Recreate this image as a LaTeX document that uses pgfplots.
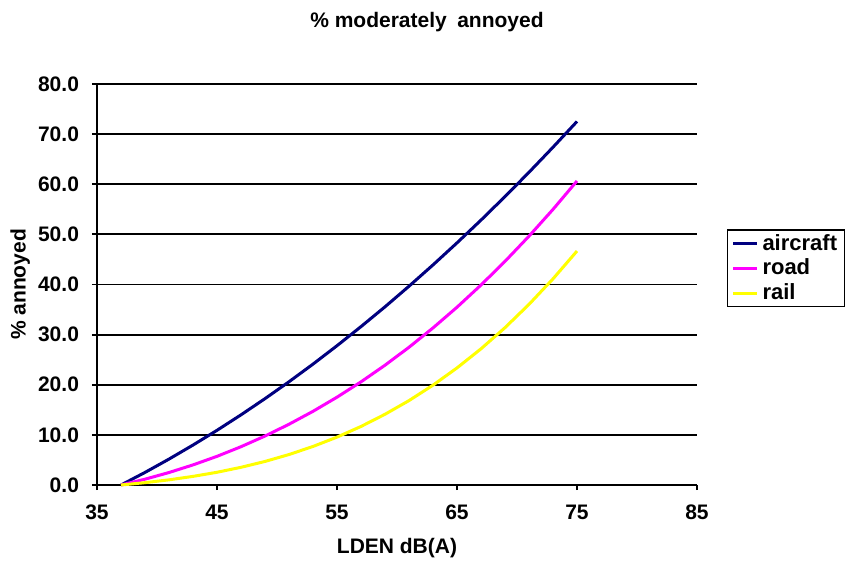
\documentclass[border=0pt]{standalone}
\usepackage{pgfplots}
\pgfplotsset{compat=1.18}
\usepackage{fontspec}
\setmainfont{Liberation Sans}
\definecolor{aircraftc}{RGB}{0,0,128}
\definecolor{roadc}{RGB}{255,0,255}
\definecolor{railc}{RGB}{255,255,0}
\begin{document}
\begin{tikzpicture}
\begin{axis}[
  scale only axis,
  width=300pt, height=200.5pt,
  xmin=35, xmax=85, ymin=0, ymax=80,
  xtick={35,45,55,65,75,85},
  ytick={0,10,20,30,40,50,60,70,80},
  axis x line=bottom, axis y line=left,
  axis line style={-, black, line width=0.9pt},
  tick align=outside,
  major tick length=2.5pt,
  tick style={black, line width=0.9pt},
  ymajorgrids,
  major grid style={black, line width=0.9pt},
  /pgf/number format/assume math mode=true,
  yticklabel={\pgfmathprintnumber[fixed,fixed zerofill,precision=1]{\tick}},
  ticklabel style={font=\fontsize{10.5}{12}\selectfont\bfseries},
  xticklabel style={yshift=-4pt},
  yticklabel style={xshift=-3pt},
  xlabel={LDEN dB(A)},
  ylabel={\% annoyed},
  label style={font=\fontsize{10.5}{12}\selectfont\bfseries},
  xlabel style={at={(axis description cs:0.5,-0.157)}, anchor=center},
  ylabel style={at={(axis description cs:-0.128,0.5)}, anchor=center, rotate=0},
  legend style={at={(axis description cs:1.05,0.54)}, anchor=west,
    draw=black, line width=0.6pt, font=\fontsize{11}{12}\selectfont\bfseries,
    inner xsep=2pt, inner ysep=0pt, row sep=-1pt},
  legend cell align=left,
  legend image code/.code={\draw[#1, line width=1.5pt] (0cm,0cm) -- (0.42cm,0cm);},
  clip=false,
]
\addplot[aircraftc, line width=1.5pt] coordinates {
(37,0) (39,2.51) (41,5.17) (43,7.97) (45,10.91) (47,14.00) (49,17.23) (51,20.60)
(53,24.12) (55,27.79) (57,31.60) (59,35.55) (61,39.66) (63,43.91) (65,48.31)
(67,52.85) (69,57.55) (71,62.39) (73,67.39) (75,72.53)};
\addlegendentry{aircraft}
\addplot[roadc, line width=1.5pt] coordinates {
(37,0) (39,1.16) (41,2.49) (43,4.01) (45,5.72) (47,7.64) (49,9.77) (51,12.12)
(53,14.70) (55,17.52) (57,20.58) (59,23.90) (61,27.48) (63,31.34) (65,35.47)
(67,39.90) (69,44.62) (71,49.65) (73,54.99) (75,60.66)};
\addlegendentry{road}
\addplot[railc, line width=1.5pt] coordinates {
(37,0) (39,0.47) (41,1.03) (43,1.72) (45,2.54) (47,3.53) (49,4.70) (51,6.08)
(53,7.69) (55,9.55) (57,11.68) (59,14.11) (61,16.84) (63,19.92) (65,23.36)
(67,27.17) (69,31.39) (71,36.04) (73,41.13) (75,46.68)};
\addlegendentry{rail}
\node[font=\fontsize{10.5}{12}\selectfont\bfseries, anchor=center]
  at ([yshift=31pt]axis description cs:0.55,1) {\% moderately\hspace{0.5em}annoyed};
\end{axis}
\pgfresetboundingbox
\path (-48.5pt,-39pt) rectangle (374pt,242.5pt);
\end{tikzpicture}
\end{document}
